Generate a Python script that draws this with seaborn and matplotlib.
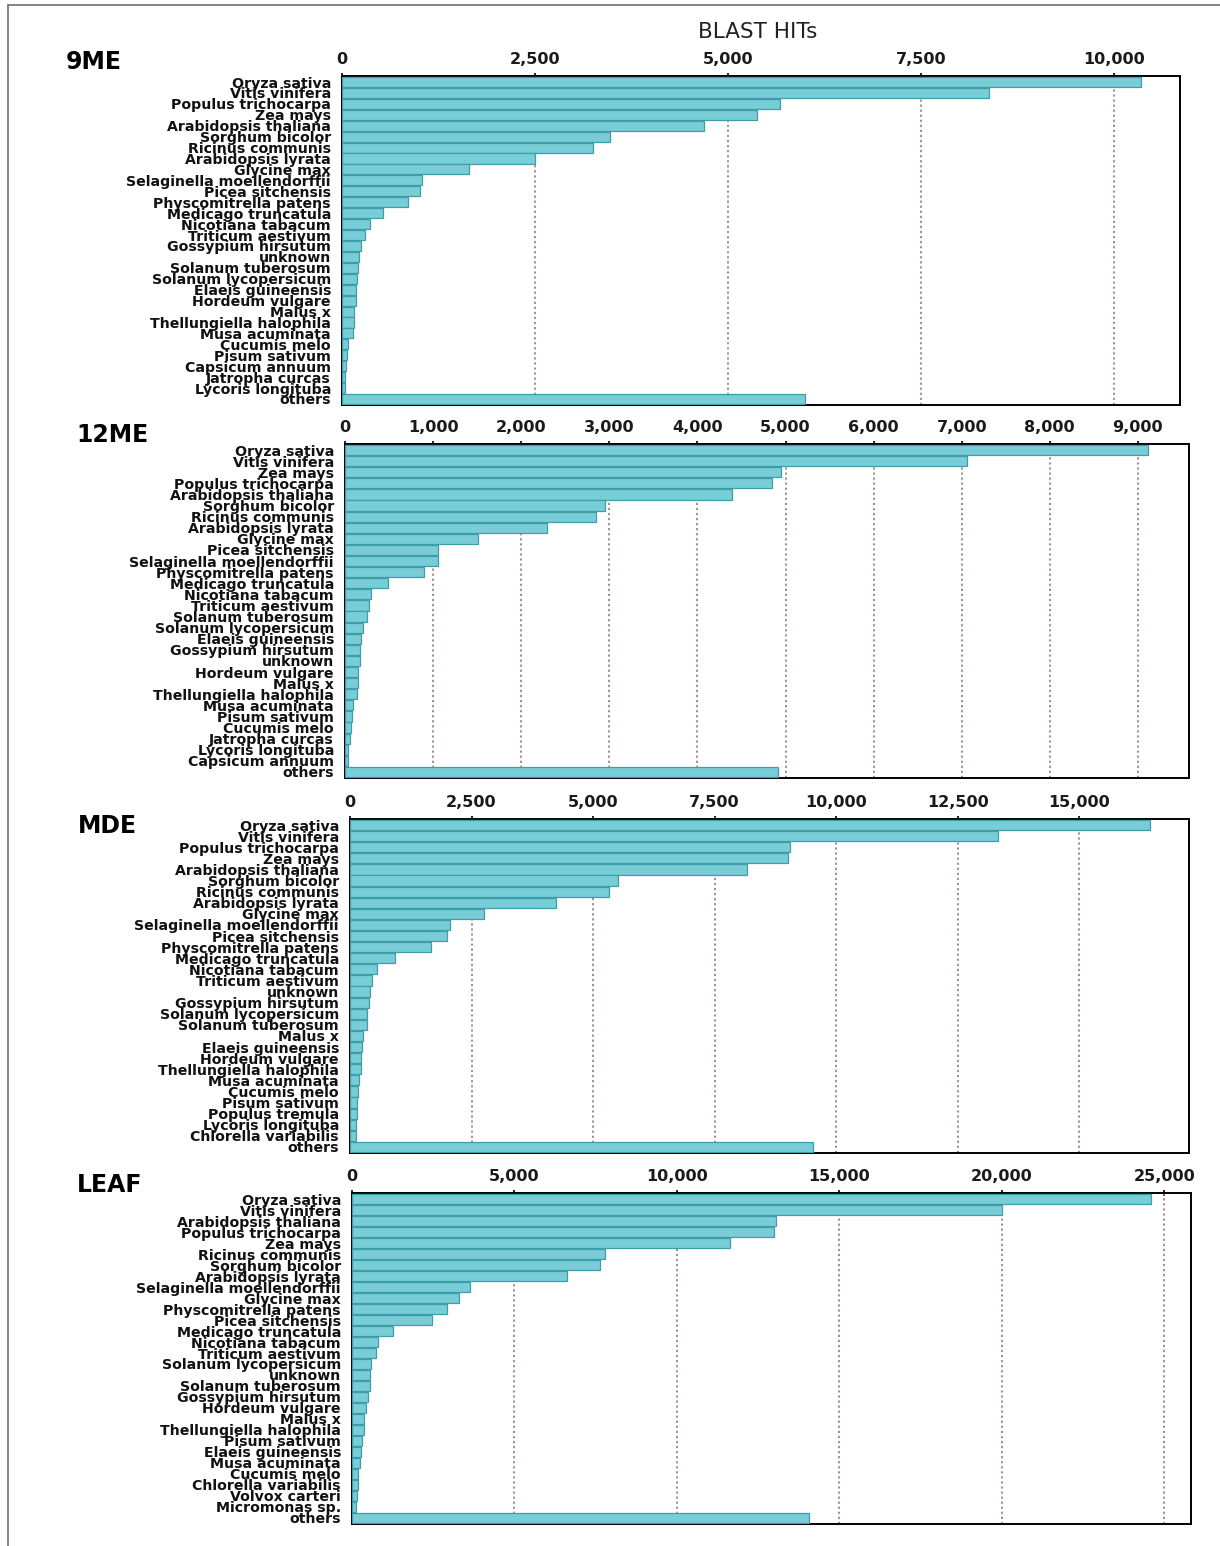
import matplotlib
matplotlib.use("Agg")
import matplotlib.pyplot as plt
from matplotlib.lines import Line2D
from matplotlib.ticker import FuncFormatter
import seaborn as sns
import pandas as pd

# ---- data: BLAST hits per species for each library ----
species_9me = [
    "Oryza sativa", "Vitis vinifera", "Populus trichocarpa", "Zea mays",
    "Arabidopsis thaliana", "Sorghum bicolor", "Ricinus communis",
    "Arabidopsis lyrata", "Glycine max", "Selaginella moellendorffii",
    "Picea sitchensis", "Physcomitrella patens", "Medicago truncatula",
    "Nicotiana tabacum", "Triticum aestivum", "Gossypium hirsutum", "unknown",
    "Solanum tuberosum", "Solanum lycopersicum", "Elaeis guineensis",
    "Hordeum vulgare", "Malus x", "Thellungiella halophila", "Musa acuminata",
    "Cucumis melo", "Pisum sativum", "Capsicum annuum", "Jatropha curcas",
    "Lycoris longituba", "others",
]
hits_9me = [10360, 8390, 5680, 5380, 4690, 3470, 3250, 2500, 1640, 1040,
            1010, 850, 530, 360, 295, 245, 215, 205, 195, 185,
            175, 160, 150, 140, 75, 65, 52, 43, 34, 6000]

species_12me = [
    "Oryza sativa", "Vitis vinifera", "Zea mays", "Populus trichocarpa",
    "Arabidopsis thaliana", "Sorghum bicolor", "Ricinus communis",
    "Arabidopsis lyrata", "Glycine max", "Picea sitchensis",
    "Selaginella moellendorffii", "Physcomitrella patens",
    "Medicago truncatula", "Nicotiana tabacum", "Triticum aestivum",
    "Solanum tuberosum", "Solanum lycopersicum", "Elaeis guineensis",
    "Gossypium hirsutum", "unknown", "Hordeum vulgare", "Malus x",
    "Thellungiella halophila", "Musa acuminata", "Pisum sativum",
    "Cucumis melo", "Jatropha curcas", "Lycoris longituba",
    "Capsicum annuum", "others",
]
hits_12me = [9120, 7065, 4950, 4850, 4390, 2950, 2850, 2295, 1510, 1060,
             1055, 895, 490, 300, 277, 245, 200, 187, 174, 165,
             142, 142, 133, 89, 75, 66, 52, 39, 30, 4910]

species_mde = [
    "Oryza sativa", "Vitis vinifera", "Populus trichocarpa", "Zea mays",
    "Arabidopsis thaliana", "Sorghum bicolor", "Ricinus communis",
    "Arabidopsis lyrata", "Glycine max", "Selaginella moellendorffii",
    "Picea sitchensis", "Physcomitrella patens", "Medicago truncatula",
    "Nicotiana tabacum", "Triticum aestivum", "unknown", "Gossypium hirsutum",
    "Solanum lycopersicum", "Solanum tuberosum", "Malus x",
    "Elaeis guineensis", "Hordeum vulgare", "Thellungiella halophila",
    "Musa acuminata", "Cucumis melo", "Pisum sativum", "Populus tremula",
    "Lycoris longituba", "Chlorella variabilis", "others",
]
hits_mde = [16450, 13330, 9060, 9010, 8170, 5520, 5320, 4245, 2765, 2050,
            1990, 1665, 935, 560, 445, 405, 385, 360, 340, 260,
            245, 235, 225, 180, 155, 145, 138, 120, 114, 9530]

species_leaf = [
    "Oryza sativa", "Vitis vinifera", "Arabidopsis thaliana",
    "Populus trichocarpa", "Zea mays", "Ricinus communis", "Sorghum bicolor",
    "Arabidopsis lyrata", "Selaginella moellendorffii", "Glycine max",
    "Physcomitrella patens", "Picea sitchensis", "Medicago truncatula",
    "Nicotiana tabacum", "Triticum aestivum", "Solanum lycopersicum",
    "unknown", "Solanum tuberosum", "Gossypium hirsutum", "Hordeum vulgare",
    "Malus x", "Thellungiella halophila", "Pisum sativum",
    "Elaeis guineensis", "Musa acuminata", "Cucumis melo",
    "Chlorella variabilis", "Volvox carteri", "Micromonas sp.", "others",
]
hits_leaf = [24600, 20010, 13050, 13000, 11620, 7775, 7630, 6620, 3640, 3280,
             2910, 2460, 1270, 785, 725, 600, 565, 540, 480, 420,
             380, 355, 300, 262, 237, 200, 175, 150, 138, 14050]

panel_names = ["9ME", "12ME", "MDE", "LEAF"]
tick_steps = [2500, 1000, 2500, 5000]
tick_max = [10000, 9000, 15000, 25000]
axis_max = [10860, 9580, 17260, 25820]

# ---- styling ----
sns.set_theme(style="white")
plt.rcParams["font.family"] = ["DejaVu Sans"]

BAR = "#78CDD7"
BAR_EDGE = "#3F9DA9"
GRID = "#9C8585"

W, H = 1220, 1546
fig = plt.figure(figsize=(W / 100, H / 100), dpi=100)
fig.patch.set_facecolor("white")

# axes boxes in pixel units: left, right, top, bottom
boxes = [
    (342, 1180, 76, 405),
    (345, 1189, 444, 778),
    (350, 1189, 819, 1153),
    (352, 1191, 1193, 1524),
]
label_pos = [(66, 62), (76, 435), (78, 826), (77, 1185)]

panels = [
    (species_9me, hits_9me),
    (species_12me, hits_12me),
    (species_mde, hits_mde),
    (species_leaf, hits_leaf),
]

comma = FuncFormatter(lambda v, _: f"{int(v):,}")

for i, (names, hits) in enumerate(panels):
    left, right, top, bottom = boxes[i]
    ax = fig.add_axes([left / W, 1 - bottom / H,
                       (right - left) / W, (bottom - top) / H])
    df = pd.DataFrame({"species": names, "hits": hits})
    sns.barplot(data=df, x="hits", y="species", orient="h", ax=ax,
                color=BAR, edgecolor=BAR_EDGE, linewidth=0.9,
                width=0.92, saturation=1, zorder=3)

    ticks = list(range(0, tick_max[i] + 1, tick_steps[i]))
    ax.set_xlim(0, axis_max[i])
    ax.set_ylim(len(names) - 0.45, -0.55)
    ax.set_xticks(ticks)
    ax.xaxis.set_major_formatter(comma)
    ax.xaxis.tick_top()
    ax.tick_params(axis="x", direction="inout", length=5, width=1.2,
                   color="black", pad=4, labelsize=11.5,
                   labelcolor="#1a1a1a")
    for lab in ax.get_xticklabels():
        lab.set_fontweight("bold")
    ax.tick_params(axis="y", length=0, pad=8, labelsize=10.2,
                   labelcolor="#111111")
    for lab in ax.get_yticklabels():
        lab.set_fontweight("bold")

    for t in ticks[1:]:
        ax.axvline(t, color=GRID, linestyle=(0, (1.2, 1.6)), linewidth=1.3,
                   zorder=1)

    ax.set_xlabel("")
    ax.set_ylabel("")
    for sp in ax.spines.values():
        sp.set_visible(True)
        sp.set_color("black")
        sp.set_linewidth(1.4)
    ax.set_facecolor("white")

    lx, ly = label_pos[i]
    fig.text(lx / W, 1 - ly / H, panel_names[i], fontsize=17,
             fontweight="bold", family=["DejaVu Sans"], color="black",
             ha="left", va="center")

fig.text(758 / W, 1 - 32 / H, "BLAST HITs", fontsize=15.5,
         color="#222222", ha="center", va="center")

# thin frame along the top and left of the figure
fig.add_artist(Line2D([8 / W, 1.0], [1 - 5 / H, 1 - 5 / H],
                      transform=fig.transFigure, color="#6e6e6e", lw=1.2))
fig.add_artist(Line2D([8 / W, 8 / W], [0.0, 1 - 5 / H],
                      transform=fig.transFigure, color="#6e6e6e", lw=1.2))

fig.savefig("out.png", dpi=100, facecolor="white")
